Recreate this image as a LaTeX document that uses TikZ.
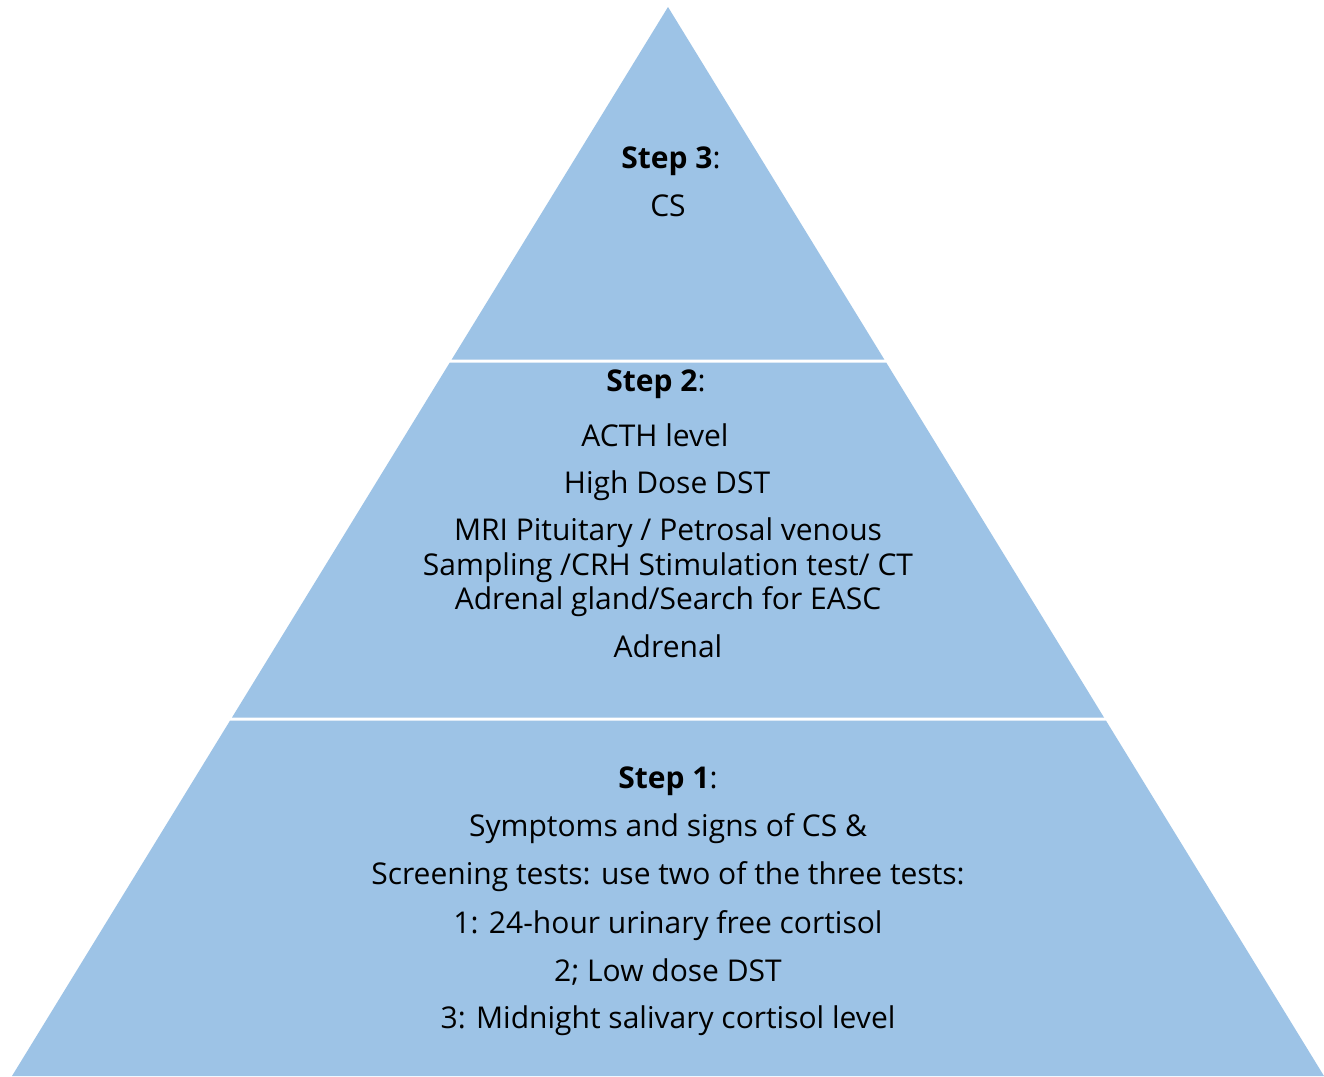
\documentclass[tikz,border=0pt]{standalone}
\usepackage{fontspec}
\setmainfont{Open Sans}
\definecolor{pyr}{RGB}{157,195,230}
\begin{document}
\begin{tikzpicture}[x=1pt,y=-1pt,
  layer/.style={fill=pyr,draw=none},
  txt/.style={font=\fontsize{30}{33}\selectfont,inner sep=0pt,anchor=base,text=black}]
\useasboundingbox (0,0) rectangle (1324,1076);
\fill[white] (0,0) rectangle (1324,1076);
\path[layer] (668,7) -- (884.3,359.5) -- (451.7,359.5) -- cycle;
\path[layer] (449.8,362.5) -- (886.2,362.5) -- (1104,717.5) -- (232,717.5) -- cycle;
\path[layer] (230.1,720.5) -- (1105.9,720.5) -- (1324,1076) -- (12,1076) -- cycle;
% step 3
\node[txt] (s3) at (671,168) {\textbf{Step 3}:};
\node[txt] (s3a) at (668,216.5) {CS};
% step 2
\node[txt] (s2) at (656,391.5) {\textbf{Step 2}:};
\node[txt] (s2a) at (655,446) {ACTH level};
\node[txt] (s2b) at (667,493) {High Dose DST};
\node[txt] (s2c) at (668,540) {MRI Pituitary / Petrosal venous};
\node[txt] (s2d) at (668,575.5) {Sampling /CRH Stimulation test/ CT};
\node[txt] (s2e) at (668,609) {Adrenal gland/Search for EASC};
\node[txt] (s2f) at (668,657) {Adrenal};
% step 1
\node[txt] (s1) at (668,788.5) {\textbf{Step 1}:};
\node[txt] (s1a) at (668,836.5) {Symptoms and signs of CS \&};
\node[txt] (s1b) at (668,884) {Screening tests: use two of the three tests:};
\node[txt] (s1c) at (668,933) {1: 24-hour urinary free cortisol};
\node[txt] (s1d) at (668,981) {2; Low dose DST};
\node[txt] (s1e) at (668,1028.5) {3: Midnight salivary cortisol level};
\end{tikzpicture}
\end{document}
